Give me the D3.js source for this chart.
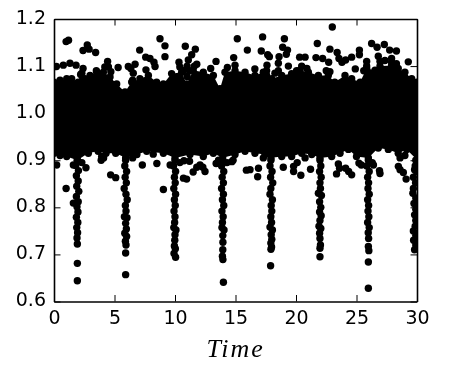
<!DOCTYPE html>
<html><head><meta charset="utf-8">
<script src="https://cdn.jsdelivr.net/npm/d3@7"></script>
<style>html,body{margin:0;padding:0;background:#fff}svg{display:block;filter:blur(0.45px)}</style></head>
<body><svg id="c" width="455" height="382"></svg>
<script>
const xTicks=[0,5,10,15,20,25,30];
const yTicks=[0.6,0.7,0.8,0.9,1.0,1.1,1.2];
const xTitle="Time";
// Saturated core: the points overlap into solid black, so only its edge can be read.
const upperEdge=[[0,1.066],[0.5,1.07],[1.05,1.073],[1.46,1.073],[2,1.066],[2.56,1.073],[2.98,1.08],[3.53,1.087],[4.08,1.087],[4.63,1.077],[5.18,1.062],[5.87,1.045],[6.42,1.066],[7.1,1.073],[7.8,1.08],[8.48,1.066],[9.04,1.062],[9.72,1.084],[10.55,1.087],[10.96,1.062],[11.5,1.091],[12.34,1.087],[13.17,1.08],[13.72,1.052],[14.13,1.087],[14.96,1.09],[15.79,1.087],[16.61,1.08],[17.3,1.087],[17.99,1.073],[18.82,1.08],[19.64,1.084],[20.33,1.091],[21.02,1.087],[21.85,1.08],[22.67,1.08],[23.2,1.066],[24.05,1.08],[24.6,1.073],[25.3,1.066],[25.84,1.095],[26.53,1.091],[26.94,1.1],[27.9,1.101],[28.45,1.095],[29,1.087],[29.56,1.073],[30,1.066]];
const lowerEdge=[[0,0.915],[0.5,0.91],[1.05,0.908],[1.93,0.9],[2.84,0.915],[3.65,0.919],[4.3,0.915],[5.1,0.915],[5.92,0.905],[6.85,0.912],[7.66,0.919],[9.04,0.915],[10,0.905],[11.24,0.912],[12.34,0.908],[13.17,0.915],[13.94,0.905],[14.96,0.912],[15.79,0.919],[16.61,0.915],[17.44,0.912],[17.93,0.905],[18.82,0.908],[19.64,0.908],[20.47,0.915],[21.3,0.912],[21.98,0.905],[22.95,0.908],[23.64,0.915],[24.33,0.923],[25,0.908],[25.98,0.905],[26.8,0.926],[27.63,0.923],[28.45,0.915],[29.15,0.923],[30,0.901]];
const outliers=[[1,1.152],[1.2,1.155],[2.75,1.145],[2.4,1.133],[2.9,1.136],[3.44,1.129],[5.3,1.097],[4.43,1.11],[7.08,1.134],[7.58,1.119],[7.93,1.116],[8.26,1.108],[8.35,1.099],[8.76,1.158],[9.17,1.143],[9.17,1.12],[10.85,1.142],[11.68,1.136],[11.38,1.124],[11.1,1.113],[10.33,1.108],[13.39,1.11],[14.33,1.097],[11.8,1.104],[12.95,1.095],[0.2,1.099],[0.77,1.102],[1.32,1.106],[1.82,1.102],[2.4,1.095],[2.3,1.085],[3.5,1.09],[6.7,1.104],[6.14,1.099],[15.15,1.158],[17.24,1.162],[19.04,1.158],[23,1.183],[15.98,1.134],[14.85,1.118],[17.13,1.132],[17.66,1.124],[17.8,1.12],[18.6,1.12],[18.54,1.106],[18.9,1.14],[19.3,1.134],[19.2,1.125],[21.76,1.148],[22.8,1.136],[21.65,1.118],[22.2,1.116],[22.7,1.108],[23.4,1.129],[23.55,1.116],[23.8,1.108],[24.1,1.113],[24.6,1.119],[25.24,1.134],[25.24,1.124],[24.9,1.094],[25.84,1.11],[26.25,1.148],[26.7,1.14],[27.3,1.146],[27.74,1.134],[28.3,1.132],[29.28,1.109],[26.8,1.121],[27.9,1.116],[20.3,1.119],[20.75,1.119],[19.37,1.1],[16.6,1.094],[14.96,1.102],[17.6,1.102],
[0.22,0.89],[2.64,0.884],[3.94,0.908],[4.68,0.869],[5.1,0.863],[7.3,0.89],[8.2,0.913],[8.5,0.893],[10.74,0.899],[10.7,0.862],[10.96,0.86],[12.07,0.89],[12.48,0.876],[12.3,0.885],[1,0.84],[9.04,0.838],[1.6,0.809],[16.2,0.88],[15.9,0.879],[16.83,0.865],[16.9,0.883],[18.95,0.885],[19.8,0.876],[20.4,0.868],[21.2,0.881],[23.35,0.871],[23.6,0.883],[24.1,0.883],[24.35,0.876],[24.6,0.869],[26.94,0.872],[26.9,0.878],[29.1,0.86],[28.6,0.88],[28.46,0.887],[28.87,0.874],[14.7,0.897],[26.4,0.89],[25.2,0.894]];
const fringe=[[2.2,1.082],[2.35,1.07],[4.2,1.098],[4.5,1.098],[4.7,1.088],[6.35,1.095],[6.55,1.085],[6.5,1.07],[7.6,1.092],[10.4,1.098],[10.7,1.09],[11,1.1],[11.2,1.09],[11,1.078],[11.6,1.1],[17.57,1.09],[17.57,1.08],[18.26,1.085],[18.54,1.09],[20.05,1.09],[20.47,1.1],[20.9,1.095],[22.5,1.09],[22.8,1.088],[25.6,1.09],[25.84,1.1],[26.94,1.11],[27.35,1.112],[27.9,1.108],[28.3,1.105],
[1.6,0.89],[2.3,0.895],[3.9,0.9],[4.1,0.905],[6.5,0.905],[9.6,0.89],[10.4,0.895],[11.2,0.898],[11.5,0.875],[11.8,0.885],[13.4,0.893],[13.6,0.9],[14.3,0.895],[14.8,0.9],[17.3,0.905],[19.8,0.887],[20.1,0.895],[20.75,0.905],[23.5,0.892],[25.4,0.89],[26.3,0.895],[28.6,0.905],[29,0.91],[29.8,0.88]];
const dip2=[[1.93,0.9],[1.8,0.889],[2.02,0.878],[1.85,0.867],[2,0.856],[1.88,0.845],[2.05,0.834],[1.85,0.823],[2,0.812],[1.9,0.801],[1.98,0.79],[1.85,0.779],[1.97,0.768],[1.88,0.757],[1.95,0.746],[1.9,0.735],[1.93,0.722],[1.93,0.681],[1.93,0.644]];
const dip6=[[5.92,0.9],[5.85,0.888],[6,0.876],[5.88,0.864],[5.98,0.852],[5.8,0.84],[5.95,0.828],[6.05,0.816],[5.9,0.804],[5.95,0.792],[5.82,0.78],[6.03,0.778],[5.92,0.766],[5.98,0.754],[5.85,0.745],[6,0.738],[5.9,0.728],[5.95,0.72],[5.92,0.703],[5.92,0.657]];
const dip10=[[10,0.9],[9.88,0.888],[10.05,0.876],[9.95,0.864],[10.02,0.852],[9.9,0.84],[10.05,0.828],[9.95,0.816],[10.02,0.804],[9.92,0.792],[10,0.78],[9.97,0.768],[9.9,0.757],[10.08,0.752],[10,0.742],[9.98,0.73],[9.95,0.718],[10.03,0.712],[9.92,0.702],[10.05,0.694]];
const dip14=[[13.94,0.9],[13.85,0.888],[14.03,0.876],[13.9,0.864],[14,0.852],[13.85,0.84],[14,0.828],[13.92,0.816],[14.03,0.804],[13.88,0.792],[13.98,0.78],[13.92,0.768],[13.88,0.757],[14.05,0.752],[13.95,0.74],[13.96,0.726],[13.95,0.71],[13.92,0.696],[13.96,0.689],[14,0.641]];
const dip18=[[17.93,0.9],[17.85,0.888],[18.02,0.876],[17.9,0.864],[18.08,0.852],[17.92,0.84],[17.85,0.828],[18.05,0.816],[17.95,0.804],[18,0.792],[17.92,0.78],[17.98,0.768],[17.85,0.758],[18.05,0.752],[17.95,0.742],[18,0.732],[17.92,0.724],[17.98,0.716],[17.93,0.711],[17.9,0.676]];
const dip22=[[21.98,0.9],[22.05,0.888],[21.95,0.876],[22.08,0.864],[21.98,0.852],[22.02,0.84],[21.85,0.83],[22.1,0.825],[21.95,0.812],[22.05,0.8],[21.95,0.79],[22.08,0.782],[21.98,0.772],[21.9,0.76],[22.05,0.755],[21.95,0.745],[21.98,0.734],[21.98,0.713],[22.02,0.72],[21.98,0.695]];
const dip26=[[25.98,0.9],[25.85,0.888],[26.05,0.876],[25.92,0.864],[26,0.852],[25.95,0.84],[26.05,0.828],[25.92,0.816],[26,0.804],[25.95,0.792],[26.02,0.78],[25.92,0.768],[26.05,0.757],[25.97,0.746],[26,0.734],[25.98,0.717],[26.02,0.708],[25.98,0.684],[25.98,0.628]];
const dip30=[[29.9,0.9],[29.85,0.888],[29.95,0.876],[29.7,0.864],[29.88,0.852],[29.7,0.84],[29.66,0.83],[29.9,0.82],[29.75,0.808],[29.9,0.796],[29.8,0.784],[29.9,0.772],[29.85,0.76],[29.7,0.75],[29.9,0.74],[29.72,0.73],[29.9,0.72],[29.8,0.71]];

const svg=d3.select("#c");
const x=d3.scaleLinear().domain([0,30]).range([54,417]);
const y=d3.scaleLinear().domain([0.6,1.2]).range([301.5,19]);
const R=3.7;
svg.append("defs").append("clipPath").attr("id","plot").append("rect")
  .attr("x",54).attr("y",19).attr("width",363).attr("height",282.5);
const g=svg.append("g").attr("clip-path","url(#plot)");
const ts=d3.merge([upperEdge,lowerEdge]).map(d=>d[0]);
const lowerAt=d3.scaleLinear().domain(lowerEdge.map(d=>d[0])).range(lowerEdge.map(d=>d[1]));
const upperAt=d3.scaleLinear().domain(upperEdge.map(d=>d[0])).range(upperEdge.map(d=>d[1]));
const stations=Array.from(new Set(ts)).sort(d3.ascending);
g.append("path").datum(stations)
  .attr("d",d3.area().x(t=>x(t)).y0(t=>y(lowerAt(t))).y1(t=>y(upperAt(t))))
  .attr("fill","#000");
const pts=d3.merge([upperEdge,lowerEdge,outliers,fringe,dip2,dip6,dip10,dip14,dip18,dip22,dip26,dip30]);
g.selectAll("circle").data(pts).join("circle")
  .attr("cx",d=>x(d[0])).attr("cy",d=>y(d[1])).attr("r",R).attr("fill","#000");

const fmt=d3.format(".1f");
const font="'DejaVu Sans',sans-serif";
function style(a){
  a.selectAll("path").attr("stroke","#000").attr("stroke-width",1.6);
  a.selectAll("line").attr("stroke","#000").attr("stroke-width",1);
  a.selectAll("text").attr("font-family",font).attr("font-size",19).attr("fill","#000");
}
const B=svg.append("g").attr("transform","translate(0,301.5)").call(d3.axisBottom(x).tickValues(xTicks).tickFormat(d3.format("d")).tickSizeInner(-6.5).tickSizeOuter(0).tickPadding(9));
style(B);
const T=svg.append("g").attr("transform","translate(0,19)").call(d3.axisTop(x).tickValues(xTicks).tickFormat("").tickSizeInner(-6.5).tickSizeOuter(0));
style(T);
const L=svg.append("g").attr("transform","translate(54,0)").call(d3.axisLeft(y).tickValues(yTicks).tickFormat(fmt).tickSizeInner(-6.5).tickSizeOuter(0).tickPadding(8));
style(L);
L.selectAll("text").attr("transform","translate(0,-2)");
const Rt=svg.append("g").attr("transform","translate(417,0)").call(d3.axisRight(y).tickValues(yTicks).tickFormat("").tickSizeInner(-6.5).tickSizeOuter(0));
style(Rt);
svg.append("text").attr("x",235.5).attr("y",357).attr("text-anchor","middle")
  .attr("font-family","'Liberation Serif',serif").attr("font-style","italic")
  .attr("font-size",26).attr("letter-spacing",1.9).text(xTitle);
</script></body></html>
